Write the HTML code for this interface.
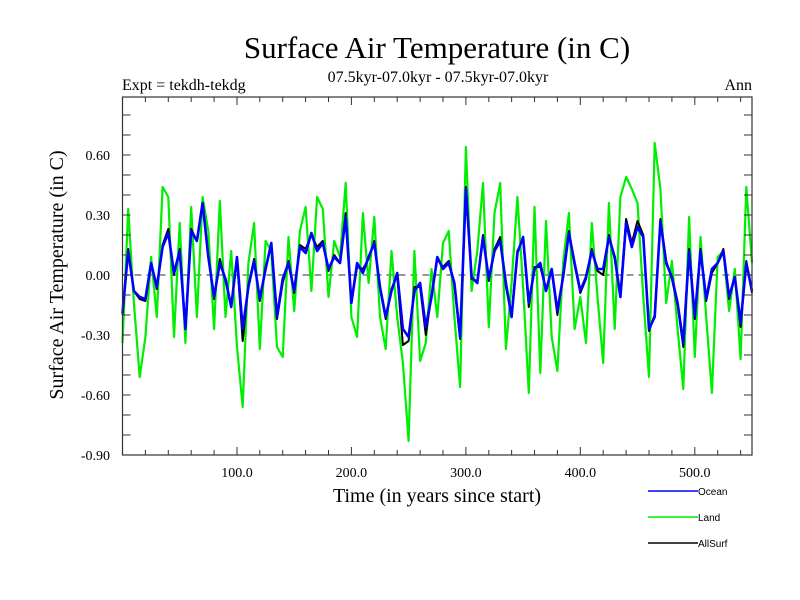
<!DOCTYPE html>
<html><head><meta charset="utf-8"><style>
html,body{margin:0;padding:0;background:#fff;}
svg{display:block;}
</style></head><body>
<svg id="chart" width="800" height="600" viewBox="0 0 800 600" xmlns="http://www.w3.org/2000/svg">
<text x="437" y="58" font-family="Liberation Serif, serif" font-size="31" text-anchor="middle">Surface Air Temperature (in C)</text>
<text x="122" y="90" font-family="Liberation Serif, serif" font-size="16">Expt = tekdh-tekdg</text>
<text x="438" y="82" font-family="Liberation Serif, serif" font-size="16" text-anchor="middle">07.5kyr-07.0kyr - 07.5kyr-07.0kyr</text>
<text x="752" y="90" font-family="Liberation Serif, serif" font-size="16" text-anchor="end">Ann</text>
<text transform="translate(63,275) rotate(-90)" font-family="Liberation Serif, serif" font-size="20" text-anchor="middle">Surface Air Temperature (in C)</text>
<text x="437" y="502" font-family="Liberation Serif, serif" font-size="20" text-anchor="middle">Time (in years since start)</text>
<g id="plot"></g>
<g font-family="Liberation Sans, sans-serif" font-size="10">
 <g><line x1="648" y1="491" x2="698" y2="491" stroke="#0000ff" stroke-width="1.5"/><text x="698" y="495">Ocean</text></g>
 <g><line x1="648" y1="517" x2="698" y2="517" stroke="#00ee00" stroke-width="1.5"/><text x="698" y="521">Land</text></g>
 <g><line x1="648" y1="543" x2="698" y2="543" stroke="#000" stroke-width="1.5"/><text x="698" y="547">AllSurf</text></g>
</g>
</svg>
<script>
const years = [0,5,10,15,20,25,30,35,40,45,50,55,60,65,70,75,80,85,90,95,100,105,110,115,120,125,130,135,140,145,150,155,160,165,170,175,180,185,190,195,200,205,210,215,220,225,230,235,240,245,250,255,260,265,270,275,280,285,290,295,300,305,310,315,320,325,330,335,340,345,350,355,360,365,370,375,380,385,390,395,400,405,410,415,420,425,430,435,440,445,450,455,460,465,470,475,480,485,490,495,500,505,510,515,520,525,530,535,540,545,550];
const ocean = [-0.19,0.12,-0.08,-0.11,-0.12,0.06,-0.06,0.14,0.21,0.01,0.12,-0.27,0.22,0.17,0.36,0.09,-0.11,0.06,-0.02,-0.16,0.09,-0.27,-0.06,0.07,-0.12,0.03,0.16,-0.21,
-0.02,0.06,-0.08,0.14,0.11,0.21,0.12,0.16,0.03,0.09,0.06,0.29,-0.14,0.06,0.01,0.09,0.16,-0.06,-0.21,-0.08,0.01,-0.27,-0.31,-0.08,-0.04,-0.26,-0.11,0.09,
0.03,0.06,-0.04,-0.31,0.43,-0.01,-0.04,0.19,-0.02,0.12,0.17,-0.04,-0.21,0.11,0.19,-0.14,0.03,0.06,-0.08,0.03,-0.18,-0.01,0.21,0.06,-0.08,-0.01,0.12,0.03,
0.03,0.19,0.09,-0.11,0.26,0.14,0.24,0.19,-0.27,-0.21,0.27,0.06,-0.01,-0.14,-0.34,0.12,-0.21,0.12,-0.12,0.03,0.06,0.12,-0.11,-0.01,-0.24,0.06,-0.08];
const land = [-0.34,0.33,-0.14,-0.51,-0.31,0.09,-0.21,0.44,0.39,-0.31,0.26,-0.34,0.34,-0.21,0.39,0.22,-0.27,0.37,-0.21,0.12,-0.36,-0.66,0.06,0.26,-0.37,0.17,0.12,-0.36,
-0.41,0.19,-0.18,0.22,0.34,-0.08,0.39,0.33,-0.11,0.17,0.09,0.46,-0.21,-0.31,0.31,-0.04,0.29,-0.21,-0.37,0.12,-0.21,-0.44,-0.83,0.12,-0.43,-0.34,0.03,-0.21,
0.16,0.22,-0.21,-0.56,0.64,-0.08,0.12,0.46,-0.26,0.31,0.46,-0.37,-0.04,0.39,-0.06,-0.59,0.34,-0.49,0.27,-0.31,-0.48,0.06,0.31,-0.27,-0.11,-0.34,0.26,-0.11,
-0.44,0.36,-0.27,0.39,0.49,0.43,0.36,-0.11,-0.51,0.66,0.43,-0.14,0.07,-0.27,-0.57,0.29,-0.41,0.19,-0.21,-0.59,0.09,0.12,-0.18,0.03,-0.42,0.44,0.06];
const allsurf = [-0.2,0.13,-0.08,-0.12,-0.13,0.06,-0.07,0.15,0.23,0.0,0.13,-0.27,0.23,0.17,0.36,0.1,-0.12,0.08,-0.03,-0.15,0.08,-0.33,-0.05,0.08,-0.13,0.04,0.15,-0.22,
-0.04,0.07,-0.09,0.15,0.13,0.2,0.14,0.17,0.02,0.1,0.06,0.31,-0.14,0.04,0.03,0.08,0.17,-0.07,-0.22,-0.07,0.0,-0.35,-0.33,-0.06,-0.06,-0.3,-0.1,0.08,
0.04,0.07,-0.05,-0.32,0.44,-0.02,-0.03,0.2,-0.03,0.13,0.19,-0.06,-0.2,0.12,0.18,-0.16,0.04,0.04,-0.07,0.02,-0.2,0.0,0.22,0.05,-0.09,-0.02,0.13,0.02,
0.0,0.2,0.08,-0.1,0.28,0.16,0.27,0.2,-0.28,-0.2,0.28,0.07,-0.02,-0.15,-0.36,0.13,-0.22,0.13,-0.13,0.01,0.06,0.13,-0.12,-0.01,-0.26,0.07,-0.09];
const yTickValues = [0.6,0.3,0.0,-0.3,-0.6,-0.9];
const yTickLabels = ["0.60","0.30","0.00","-0.30","-0.60","-0.90"];
const xTickValues = [100,200,300,400,500];
const xTickLabels = ["100.0","200.0","300.0","400.0","500.0"];

const L=122.5,R=752,T=97,B=455,X0=0,X1=550,Y0=-0.9,Y1=0.89;
function sx(v){return L+(v-X0)/(X1-X0)*(R-L);}
function sy(v){return B-(v-Y0)/(Y1-Y0)*(B-T);}
const NS='http://www.w3.org/2000/svg';
const plot=document.getElementById('plot');
function mk(tag,attrs){const e=document.createElementNS(NS,tag);for(const k in attrs)e.setAttribute(k,attrs[k]);return e;}

const zero=mk('line',{x1:L,x2:R,y1:sy(0),y2:sy(0),stroke:'#777','stroke-width':1.5,'stroke-dasharray':'7,5'});


plot.appendChild(zero);

function series(vals,color,w,name){
  const d=vals.map((v,i)=>(i?'L':'M')+sx(years[i]).toFixed(1)+','+sy(v).toFixed(1)).join('');
  const p=mk('path',{d:d,fill:'none',stroke:color,'stroke-width':w,'stroke-linejoin':'round'});
  
  
  plot.appendChild(p);
}
series(land,'#00ee00',2.2,'land-line');
series(allsurf,'#000000',2,'allsurf-line');
series(ocean,'#0000ff',2.6,'ocean-line');

const frame=mk('rect',{x:L,y:T,width:R-L,height:B-T,fill:'none',stroke:'#333','stroke-width':1.2});


plot.appendChild(frame);

let tk='';
for(let v=-0.9;v<=0.89;v+=0.1){const y=sy(v).toFixed(1);tk+=`M${L},${y}h8M${R},${y}h-8`;}
for(let v=20;v<550;v+=20){const x=sx(v).toFixed(1);const len=(v%100===0)?8:5;tk+=`M${x},${B}v-${len}M${x},${T}v${len}`;}
const ticks=mk('path',{d:tk,stroke:'#333','stroke-width':1,fill:'none'});


plot.appendChild(ticks);

yTickValues.forEach((v,i)=>{
  const t=mk('text',{x:110,y:sy(v)+5,'text-anchor':'end','font-family':'Liberation Serif, serif','font-size':14});
  t.textContent=yTickLabels[i];
  
  
  plot.appendChild(t);
});
xTickValues.forEach((v,i)=>{
  const t=mk('text',{x:sx(v),y:477,'text-anchor':'middle','font-family':'Liberation Serif, serif','font-size':14});
  t.textContent=xTickLabels[i];
  
  
  plot.appendChild(t);
});
</script>
</body></html>
